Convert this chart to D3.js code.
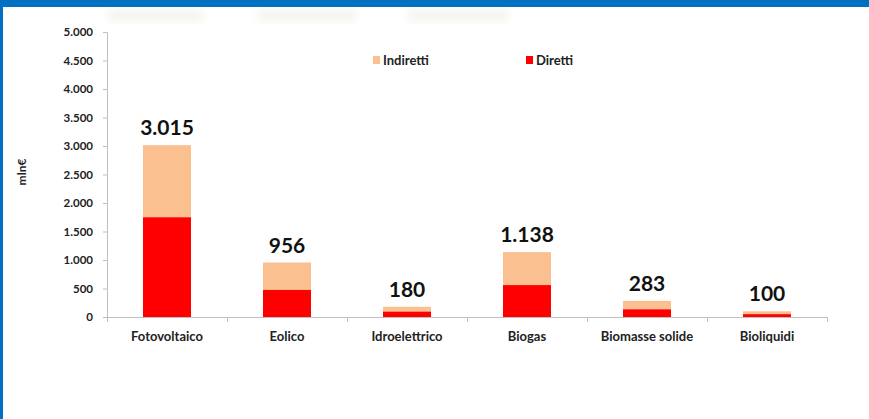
<!DOCTYPE html>
<html>
<head>
<meta charset="utf-8">
<script src="https://cdn.jsdelivr.net/npm/d3@7"></script>
<style>
  html, body { margin: 0; padding: 0; background: #fff; }
  svg { display: block; }
</style>
</head>
<body>
<div id="canvas"></div>
<script>
var categories = ["Fotovoltaico", "Eolico", "Idroelettrico", "Biogas", "Biomasse solide", "Bioliquidi"];
var diretti = [1750, 475, 95, 560, 135, 50];
var totali = [3015, 956, 180, 1138, 283, 100];
var totaleLabels = ["3.015", "956", "180", "1.138", "283", "100"];
var yTicks = [0, 500, 1000, 1500, 2000, 2500, 3000, 3500, 4000, 4500, 5000];

var width = 869, height = 419;
var fontFam = "Lato, 'Open Sans', sans-serif";

var svg = d3.select("#canvas").append("svg")
    .attr("width", width)
    .attr("height", height);

// frame
svg.append("rect").attr("x", 0).attr("y", 0).attr("width", width).attr("height", 7).attr("fill", "#0070c0");
svg.append("rect").attr("x", 0).attr("y", 0).attr("width", 3).attr("height", height).attr("fill", "#0070c0");

// very faint green smudges under the top bar
var defs = svg.append("defs");
defs.append("filter").attr("id", "blur").append("feGaussianBlur").attr("stdDeviation", 4);
[[108, 95], [258, 98], [408, 100]].forEach(function (s) {
    svg.append("rect").attr("x", s[0]).attr("y", 9).attr("width", s[1]).attr("height", 13)
        .attr("fill", "#f3f6ef").attr("filter", "url(#blur)");
});

var x = d3.scaleBand().domain(categories).range([107, 827]).paddingInner(0.6).paddingOuter(0.3);
var y = d3.scaleLinear().domain([0, 5000]).range([317, 32]);

var fmt = function (d) { return d3.format(",")(d).replace(/,/g, "."); };

// y axis
var yAxis = svg.append("g").attr("transform", "translate(107,0)")
    .call(d3.axisLeft(y).tickValues(yTicks).tickSize(4).tickPadding(10).tickFormat(fmt));
yAxis.select(".domain").attr("stroke", "#bfbfbf");
yAxis.selectAll(".tick line").attr("stroke", "#bfbfbf");
yAxis.selectAll("text").attr("font-family", fontFam).attr("font-weight", "bold")
    .attr("font-size", 11.5).attr("fill", "#222");

// x axis line with category boundary ticks
var band = (827 - 107) / categories.length;
svg.append("line").attr("x1", 107).attr("x2", 827).attr("y1", 317.5).attr("y2", 317.5)
    .attr("stroke", "#bfbfbf");
svg.selectAll(".xtick").data(d3.range(categories.length + 1)).enter().append("line")
    .attr("x1", function (i) { return 107.5 + i * band; })
    .attr("x2", function (i) { return 107.5 + i * band; })
    .attr("y1", 317).attr("y2", 322)
    .attr("stroke", "#bfbfbf");

svg.selectAll(".cat").data(categories).enter().append("text")
    .attr("x", function (d) { return x(d) + x.bandwidth() / 2; })
    .attr("y", 341)
    .attr("text-anchor", "middle")
    .attr("font-family", fontFam).attr("font-weight", "bold").attr("font-size", 13)
    .attr("fill", "#222")
    .text(function (d) { return d; });

// bars: indiretti (top) and diretti (bottom)
svg.selectAll(".ind").data(categories).enter().append("rect")
    .attr("x", function (d) { return x(d); })
    .attr("width", x.bandwidth())
    .attr("y", function (d, i) { return y(totali[i]); })
    .attr("height", function (d, i) { return y(diretti[i]) - y(totali[i]); })
    .attr("fill", "#fac090");

svg.selectAll(".dir").data(categories).enter().append("rect")
    .attr("x", function (d) { return x(d); })
    .attr("width", x.bandwidth())
    .attr("y", function (d, i) { return y(diretti[i]); })
    .attr("height", function (d, i) { return y(0) - y(diretti[i]); })
    .attr("fill", "#ff0000");

// totals
svg.selectAll(".tot").data(categories).enter().append("text")
    .attr("x", function (d) { return x(d) + x.bandwidth() / 2; })
    .attr("y", function (d, i) { return y(totali[i]) - 10; })
    .attr("text-anchor", "middle")
    .attr("font-family", fontFam).attr("font-weight", "bold").attr("font-size", 21)
    .attr("fill", "#111")
    .text(function (d, i) { return totaleLabels[i]; });

// y label
svg.append("text")
    .attr("transform", "translate(26,172) rotate(-90)")
    .attr("text-anchor", "middle")
    .attr("font-family", fontFam).attr("font-weight", "bold").attr("font-size", 12)
    .attr("fill", "#222")
    .text("mln€");

// legend
var legend = [["Indiretti", "#fac090", 373], ["Diretti", "#ff0000", 526]];
legend.forEach(function (l) {
    svg.append("rect").attr("x", l[2]).attr("y", 56).attr("width", 7).attr("height", 8).attr("fill", l[1]);
    svg.append("text").attr("x", l[2] + 10).attr("y", 65)
        .attr("font-family", fontFam).attr("font-weight", "bold").attr("font-size", 13)
        .attr("fill", "#222").text(l[0]);
});
</script>
</body>
</html>
